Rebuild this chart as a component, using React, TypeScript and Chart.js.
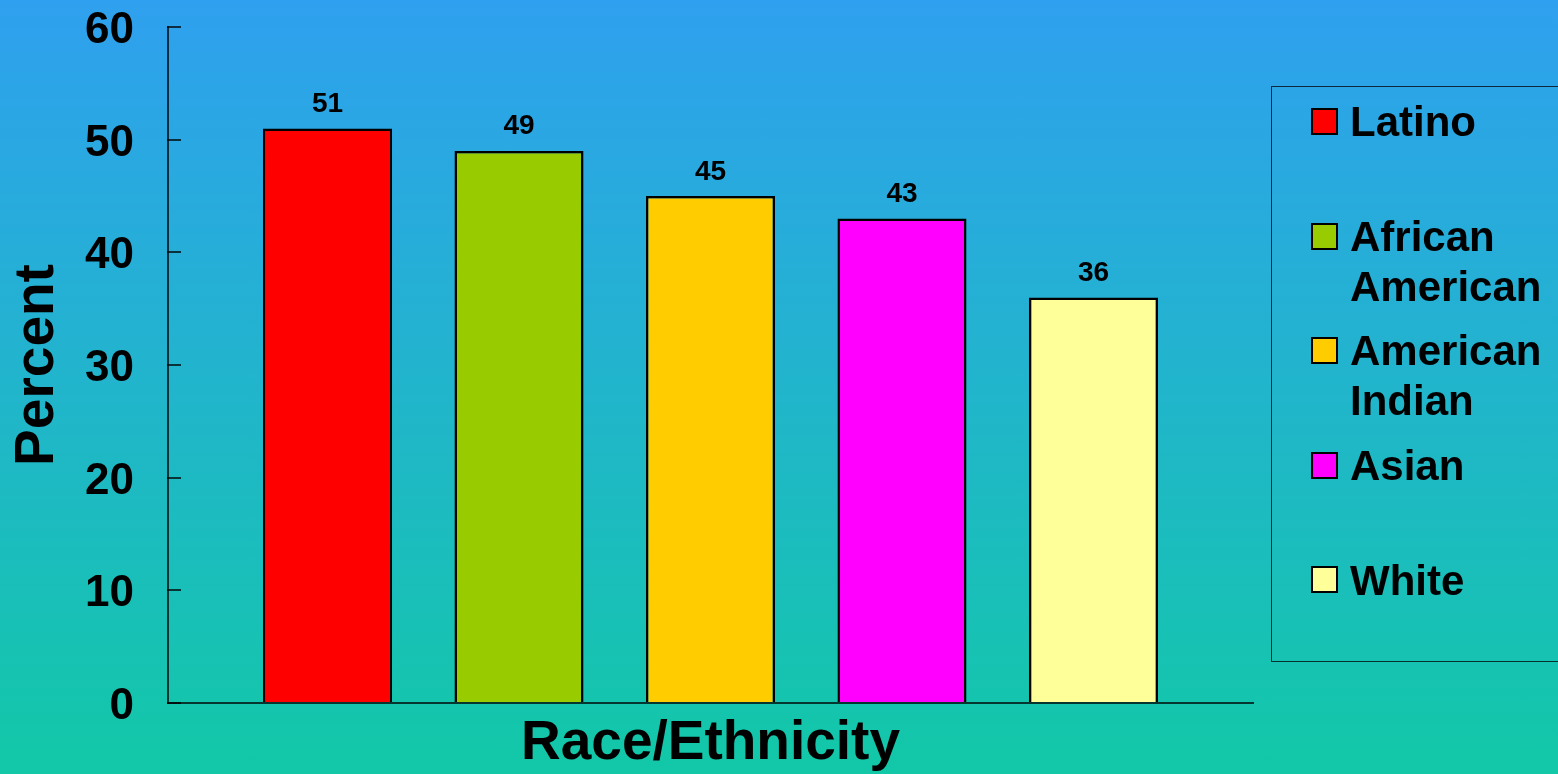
import React, { useEffect, useRef } from "react";
import { Chart, registerables } from "chart.js";

Chart.register(...registerables);

// ---- data ----
const categories = ["Latino", "African American", "American Indian", "Asian", "White"];
const percentValues = [51, 49, 45, 43, 36];
const barColors = ["#FF0000", "#99CC00", "#FFCC00", "#FF00FF", "#FFFF99"];
const yMin = 0;
const yMax = 60;
const yStep = 10;
const yAxisTitle = "Percent";
const xAxisTitle = "Race/Ethnicity";

const FONT = "'Liberation Sans', Arial, Helvetica, sans-serif";
const AXIS_COLOR = "rgba(0,0,0,0.72)";

const valueLabelPlugin = {
  id: "valueLabels",
  afterDatasetsDraw(chart: any) {
    const ctx = chart.ctx;
    const meta = chart.getDatasetMeta(0);
    ctx.save();
    ctx.font = `bold 28px ${FONT}`;
    ctx.fillStyle = "#000";
    ctx.textAlign = "center";
    ctx.textBaseline = "alphabetic";
    meta.data.forEach((el: any, i: number) => {
      ctx.fillText(String(percentValues[i]), el.x, el.y - 16.5);
    });
    ctx.restore();
  },
};

export default function App() {
  const canvasRef = useRef<HTMLCanvasElement | null>(null);

  useEffect(() => {
    const canvas = canvasRef.current;
    if (!canvas) return;
    const chart = new Chart(canvas, {
      type: "bar",
      data: {
        datasets: [
          {
            label: yAxisTitle,
            data: percentValues.map((v, i) => ({ x: i, y: v })),
            backgroundColor: barColors,
            borderColor: "#000",
            borderWidth: 2.5,
            barPercentage: 0.674,
            categoryPercentage: 1,
          },
        ],
      },
      options: {
        responsive: false,
        animation: false,
        layout: { padding: { top: 27, right: 305, bottom: 0, left: 0 } },
        plugins: { legend: { display: false }, tooltip: { enabled: false } },
        scales: {
          x: {
            type: "linear",
            min: -0.833,
            max: 4.833,
            offset: false,
            afterBuildTicks: (s: any) => {
              s.ticks = categories.map((_, i) => ({ value: i }));
            },
            ticks: { display: false },
            grid: { display: true, drawOnChartArea: false, drawTicks: false },
            border: { display: true, color: AXIS_COLOR, width: 2 },
            title: {
              display: true,
              text: xAxisTitle,
              color: "#000",
              font: { family: FONT, size: 55, weight: "bold", lineHeight: 1.1 },
              padding: { top: 10.5, bottom: 0 },
            },
          },
          y: {
            type: "linear",
            min: yMin,
            max: yMax,
            ticks: {
              stepSize: yStep,
              color: "#000",
              font: { family: FONT, size: 44, weight: "bold" },
              padding: 47,
              labelOffset: 4,
            },
            grid: {
              drawOnChartArea: false,
              drawTicks: true,
              tickLength: -13,
              color: AXIS_COLOR,
              lineWidth: 2,
            },
            border: { display: true, color: AXIS_COLOR, width: 2 },
            title: {
              display: true,
              text: yAxisTitle,
              color: "#000",
              font: { family: FONT, size: 55, weight: "bold" },
              padding: { top: 5, bottom: 0 },
            },
            afterFit: (s: any) => {
              s.width = 168;
              s.paddingTop = 0;
              s.paddingBottom = 0;
            },
          },
        },
      } as any,
      plugins: [valueLabelPlugin],
    });
    return () => chart.destroy();
  }, []);

  return (
    <div
      style={{
        position: "fixed",
        left: 0,
        top: 0,
        width: 1558,
        height: 774,
        overflow: "hidden",
        background: "linear-gradient(to bottom, #2FA0EF 0%, #21B5CC 50%, #12C8A7 100%)",
      }}
    >
      <canvas ref={canvasRef} width={1558} height={774} style={{ position: "absolute", left: 0, top: 0, width: 1558, height: 774 }} />
      <div
        style={{
          position: "absolute",
          left: 1271,
          top: 86,
          width: 330,
          height: 576,
          border: "1px solid rgba(0,0,0,0.75)",
          boxSizing: "border-box",
          fontFamily: FONT,
        }}
      >
        {categories.map((c, i) => (
          <div key={c} style={{ position: "absolute", left: 0, top: 10.2 + i * 114.6, width: 300 }}>
            <div
              style={{
                position: "absolute",
                left: 39,
                top: 10.8,
                width: 27,
                height: 27,
                boxSizing: "border-box",
                border: "2px solid #000",
                background: barColors[i],
              }}
            />
            <div
              style={{
                position: "absolute",
                left: 78,
                top: 0,
                fontSize: 42,
                fontWeight: "bold",
                lineHeight: "50px",
                color: "#000",
                whiteSpace: "nowrap",
              }}
            >
              {c.split(" ").map((w, j) => (
                <div key={j}>{w}</div>
              ))}
            </div>
          </div>
        ))}
      </div>
    </div>
  );
}
